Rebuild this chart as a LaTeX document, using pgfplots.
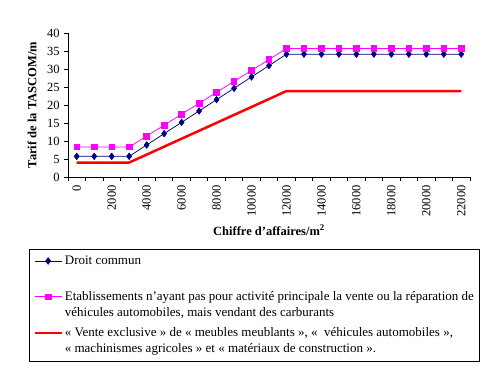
\documentclass[border=0pt]{standalone}
\usepackage{fontspec}
\setmainfont{Liberation Serif}
\usepackage{pgfplots}
\pgfplotsset{compat=1.18}
\definecolor{navyC}{RGB}{0,0,128}
\definecolor{magC}{RGB}{255,0,255}
\definecolor{redC}{RGB}{255,0,0}
\begin{document}
\fontsize{12.5bp}{16bp}\selectfont
\begin{tikzpicture}
\path[use as bounding box] (0,0) rectangle (491bp,366bp);
\begin{axis}[
  at={(68bp,189bp)}, anchor=south west,
  scale only axis, width=402bp, height=144bp,
  xmin=-0.5, xmax=22.5, ymin=0, ymax=40,
  axis lines*=left,
  axis line style={line width=0.75bp},
  tick align=outside,
  major tick length=4bp, minor tick length=4bp,
  every tick/.style={black, line width=0.75bp},
  xtick={0,2,...,22},
  xticklabels={0,2000,4000,6000,8000,10000,12000,14000,16000,18000,20000,22000},
  major x tick style={draw=none},
  minor xtick={-0.5,0.5,...,22.5},
  ytick={0,5,...,40},
  /pgf/number format/assume math mode=true,
  tick label style={font=\fontsize{12.5bp}{15bp}\selectfont},
  xticklabel style={rotate=90, anchor=east},
  every axis y label/.style={at={(axis description cs:0,0.5)}, xshift=-36bp, rotate=90, anchor=center, font=\fontsize{12.5bp}{15bp}\selectfont\bfseries},
  every axis x label/.style={at={(axis description cs:0.5,0)}, yshift=-53bp, anchor=center, font=\fontsize{12.5bp}{15bp}\selectfont\bfseries},
  ylabel={Tarif de la TASCOM/m},
  xlabel={Chiffre d'affaires/m\textsuperscript{2}},
  legend image code/.code={\draw[mark repeat=2,mark phase=2,#1] plot coordinates {(0bp,20bp) (13.5bp,20bp) (27bp,20bp)};},
  legend style={at={(axis description cs:-0.097,-0.5)}, anchor=north west, draw=black, line width=0.75bp,
    inner xsep=4bp, inner ysep=5bp, row sep=5bp,
    font=\fontsize{13bp}{16bp}\selectfont,
    cells={anchor=base west, inner xsep=1.5bp, inner ysep=0bp}},
]
\addplot[navyC, line width=0.75bp, mark=diamond*, mark size=3.2bp, mark options={fill=navyC, draw=navyC}] coordinates {
(0,5.74) (1,5.74) (2,5.74) (3,5.74) (4,8.89) (5,12.04) (6,15.19) (7,18.34) (8,21.49) (9,24.64) (10,27.79) (11,30.94)
(12,34.12) (13,34.12) (14,34.12) (15,34.12) (16,34.12) (17,34.12) (18,34.12) (19,34.12) (20,34.12) (21,34.12) (22,34.12)};
\addlegendentry{\vbox{\hbox{Droit commun}\hbox{\strut}}}
\addplot[magC, line width=0.75bp, mark=square*, mark size=2.8bp, mark options={fill=magC, draw=magC}] coordinates {
(0,8.32) (1,8.32) (2,8.32) (3,8.32) (4,11.36) (5,14.40) (6,17.44) (7,20.48) (8,23.52) (9,26.56) (10,29.60) (11,32.64)
(12,35.70) (13,35.70) (14,35.70) (15,35.70) (16,35.70) (17,35.70) (18,35.70) (19,35.70) (20,35.70) (21,35.70) (22,35.70)};
\addlegendentry{\vbox{\hbox{Etablissements n'ayant pas pour activité principale la vente ou la réparation de}\hbox{véhicules automobiles, mais vendant des carburants}}}
\addplot[redC, line width=2.5bp, no marks] coordinates {
(0,4.02) (1,4.02) (2,4.02) (3,4.02) (4,6.22) (5,8.43) (6,10.63) (7,12.84) (8,15.04) (9,17.25) (10,19.45) (11,21.66)
(12,23.88) (13,23.88) (14,23.88) (15,23.88) (16,23.88) (17,23.88) (18,23.88) (19,23.88) (20,23.88) (21,23.88) (22,23.88)};
\addlegendentry{\vbox{\hbox{« Vente exclusive » de « meubles meublants », «\ \ véhicules automobiles »,}\hbox{« machinismes agricoles » et « matériaux de construction ».}}}
\end{axis}
\end{tikzpicture}
\end{document}
